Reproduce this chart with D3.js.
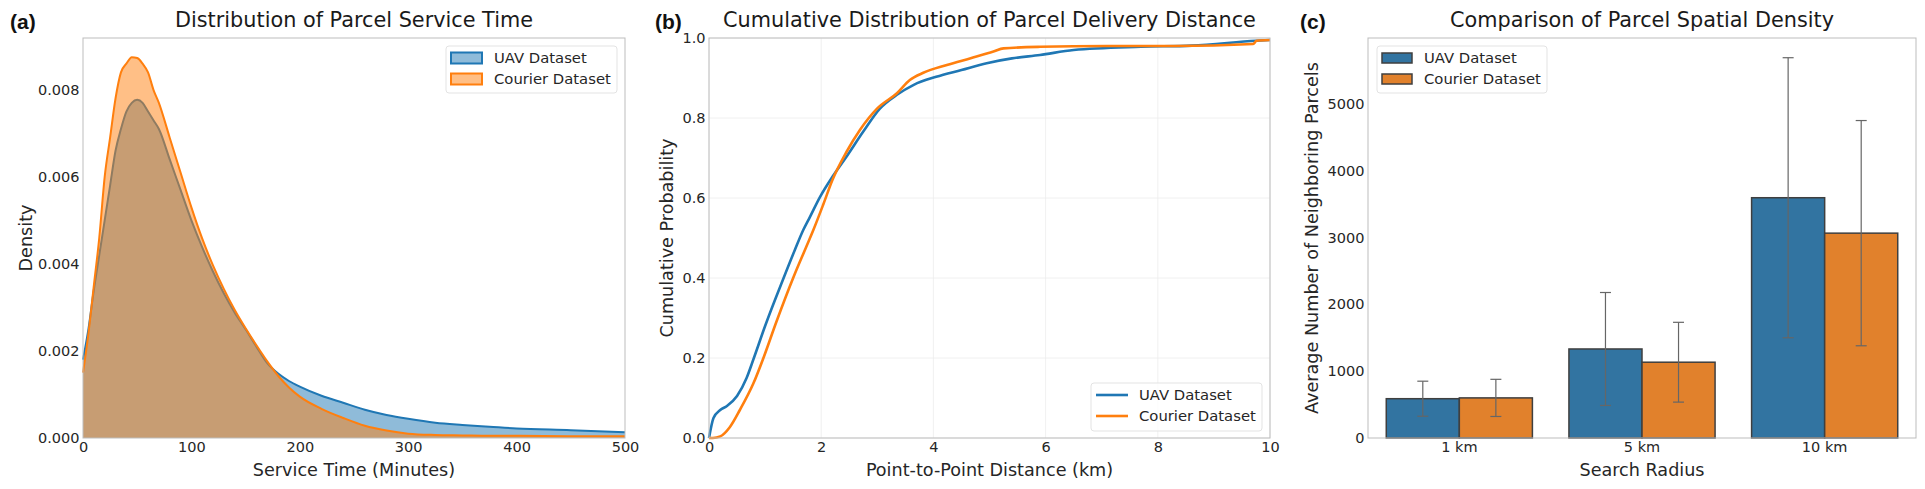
<!DOCTYPE html>
<html>
<head>
<meta charset="utf-8">
<script src="https://cdn.jsdelivr.net/npm/d3@7"></script>
<style>
    body { margin: 0; background: #fff; }
    svg text { font-family: "DejaVu Sans", sans-serif; fill: #262626; }
</style>
</head>
<body>
<svg id="chart" width="1925" height="489"></svg>
<script>
// (a) service time KDE
var serviceTime = [0, 5, 10, 15, 20, 25, 30, 35, 40, 45, 50, 55, 60, 65, 70, 80, 90, 100, 110, 120, 130, 140, 150,
    160, 170, 180, 190, 200, 220, 240, 260, 280, 300, 325, 350, 375, 400, 450, 500];
var uavDensity = [0.0018, 0.0025, 0.0034, 0.0042, 0.0050, 0.0058, 0.0066, 0.0071, 0.0075, 0.0077, 0.00777, 0.0077,
    0.0075, 0.0073, 0.0071, 0.0064, 0.0057, 0.0050, 0.00438, 0.00382, 0.00332, 0.00288, 0.00250, 0.00210, 0.00172,
    0.00148, 0.00131, 0.00118, 0.00097, 0.00081, 0.00065, 0.00053, 0.00044, 0.00035, 0.00030, 0.00026, 0.00022,
    0.00018, 0.00013];
var courierDensity = [0.0015, 0.0024, 0.0035, 0.0046, 0.0060, 0.0069, 0.0078, 0.0084, 0.0086, 0.00875, 0.00873,
    0.0086, 0.0084, 0.0080, 0.0077, 0.0069, 0.0061, 0.0053, 0.00458, 0.00396, 0.00342, 0.00294, 0.00252, 0.00213,
    0.00176, 0.00143, 0.00116, 0.00095, 0.00067, 0.00046, 0.00028, 0.00017, 0.00010, 0.00007, 0.00006, 0.00005,
    0.00005, 0.00004, 0.00004];

// (b) delivery distance CDF
var uavDistance = [0, 0.08, 0.2, 0.32, 0.5, 0.67, 0.8, 1.0, 1.33, 1.53, 1.68, 1.8, 1.98, 2.2, 2.45, 2.75, 3.05,
    3.35, 3.65, 4.05, 4.5, 4.95, 5.4, 5.9, 6.5, 7.7, 8.6, 9.75, 10];
var uavCdf = [0, 0.05, 0.07, 0.08, 0.105, 0.15, 0.2, 0.28, 0.4, 0.47, 0.52, 0.553, 0.603, 0.653, 0.703, 0.766,
    0.824, 0.858, 0.883, 0.903, 0.92, 0.937, 0.949, 0.9575, 0.97, 0.978, 0.981, 0.993, 0.995];
var courierDistance = [0, 0.07, 0.2, 0.37, 0.55, 0.79, 0.97, 1.2, 1.5, 1.74, 1.86, 2.04, 2.2, 2.45, 2.69, 3.0,
    3.35, 3.58, 3.82, 4.24, 4.65, 5.07, 5.25, 5.9, 7.1, 8.3, 9.7, 9.76, 10];
var courierCdf = [0, 0, 0.004, 0.027, 0.07, 0.136, 0.2, 0.29, 0.4, 0.48, 0.52, 0.585, 0.645, 0.715, 0.77, 0.824,
    0.862, 0.895, 0.913, 0.9325, 0.949, 0.966, 0.974, 0.978, 0.98, 0.98, 0.985, 0.993, 0.995];

// (c) neighbouring parcels, mean and std
var radii = ['1 km', '5 km', '10 km'];
var uavMean = [588, 1332, 3595];
var uavStd = [262, 845, 2095];
var courierMean = [600, 1134, 3065];
var courierStd = [278, 597, 1685];

var seriesNames = ['UAV Dataset', 'Courier Dataset'];
var densityTicks = [0, 0.002, 0.004, 0.006, 0.008];
var timeTicks = [0, 100, 200, 300, 400, 500];
var distanceTicks = [0, 2, 4, 6, 8, 10];
var cdfTicks = [0, 0.2, 0.4, 0.6, 0.8, 1.0];
var parcelTicks = [0, 1000, 2000, 3000, 4000, 5000];

var blue = '#1f77b4', orange = '#ff7f0e';
var barBlue = '#3274a1', barOrange = '#e1812c';
var plotTop = 38, plotBottom = 438;

var svg = d3.select('#chart');

var styleAxis = function (g) {
    g.attr('font-size', 14.5).attr('font-family', null).style('color', '#262626');
    g.select('.domain').remove();
};

var frame = function (left, right) {
    svg.append('rect')
        .attr('x', left).attr('y', plotTop)
        .attr('width', right - left).attr('height', plotBottom - plotTop)
        .style('fill', 'none').style('stroke', '#bdbdbd').style('stroke-width', 1);
};

var titles = function (cx, label, letterX, letter, xLabel, yLabel, yLabelX) {
    svg.append('text').attr('x', cx).attr('y', 27).attr('text-anchor', 'middle')
        .attr('font-size', 20.8).style('fill', '#1a1a1a').text(label);
    svg.append('text').attr('x', letterX).attr('y', 29)
        .style('font-family', '"Liberation Sans", Arial, sans-serif')
        .attr('font-weight', 'bold').attr('font-size', 21).style('fill', '#111').text(letter);
    svg.append('text').attr('x', cx).attr('y', 476).attr('text-anchor', 'middle')
        .attr('font-size', 17.6).text(xLabel);
    svg.append('text').attr('transform', 'translate(' + yLabelX + ',' + ((plotTop + plotBottom) / 2) + ') rotate(-90)')
        .attr('text-anchor', 'middle').attr('font-size', 17.6).text(yLabel);
};

// ---------- (a) ----------
var ax = d3.scaleLinear().domain([0, 500]).range([83, 625]);
var ay = d3.scaleLinear().domain([0, 0.00919]).range([plotBottom, plotTop]);

var kde = [
    {values: uavDensity, color: blue},
    {values: courierDensity, color: orange}
];
kde.forEach(function (s) {
    var pts = serviceTime.map(function (t, i) { return [t, s.values[i]]; });
    svg.append('path')
        .attr('d', d3.area().x(function (d) { return ax(d[0]); }).y0(ay(0)).y1(function (d) { return ay(d[1]); })
            .curve(d3.curveMonotoneX)(pts))
        .style('fill', s.color).style('fill-opacity', 0.5).style('stroke', 'none');
    svg.append('path')
        .attr('d', d3.line().x(function (d) { return ax(d[0]); }).y(function (d) { return ay(d[1]); })
            .curve(d3.curveMonotoneX)(pts))
        .style('fill', 'none').style('stroke', s.color).style('stroke-width', 2);
});

svg.append('g').attr('transform', 'translate(0,' + plotBottom + ')')
    .call(d3.axisBottom(ax).tickValues(timeTicks).tickSize(0).tickPadding(4)).call(styleAxis);
svg.append('g').attr('transform', 'translate(83,0)')
    .call(d3.axisLeft(ay).tickValues(densityTicks).tickFormat(d3.format('.3f')).tickSize(0).tickPadding(3.5))
    .call(styleAxis);
frame(83, 625);
titles(354, 'Distribution of Parcel Service Time', 10, '(a)', 'Service Time (Minutes)', 'Density', 32);

var legA = svg.append('g');
legA.append('rect').attr('x', 446).attr('y', 46).attr('width', 171).attr('height', 47).attr('rx', 3)
    .style('fill', '#fff').style('fill-opacity', 0.8).style('stroke', '#e3e3e3');
kde.forEach(function (s, i) {
    var ly = 58 + i * 21;
    legA.append('rect').attr('x', 451).attr('y', ly - 5.5).attr('width', 31).attr('height', 11)
        .style('fill', s.color).style('fill-opacity', 0.5).style('stroke', s.color).style('stroke-width', 2);
    legA.append('text').attr('x', 494).attr('y', ly).attr('dy', '0.35em').attr('font-size', 14.8).text(seriesNames[i]);
});

// ---------- (b) ----------
var bx = d3.scaleLinear().domain([0, 10]).range([709, 1270]);
var by = d3.scaleLinear().domain([0, 1]).range([plotBottom, plotTop]);

var grid = svg.append('g');
distanceTicks.forEach(function (t) {
    grid.append('line').attr('x1', bx(t)).attr('x2', bx(t)).attr('y1', plotTop).attr('y2', plotBottom)
        .style('stroke', '#ececec').style('stroke-width', 0.8);
});
cdfTicks.forEach(function (t) {
    grid.append('line').attr('x1', 709).attr('x2', 1270).attr('y1', by(t)).attr('y2', by(t))
        .style('stroke', '#ececec').style('stroke-width', 0.8);
});

var cdfs = [
    {x: uavDistance, y: uavCdf, color: blue},
    {x: courierDistance, y: courierCdf, color: orange}
];
cdfs.forEach(function (s) {
    var pts = s.x.map(function (v, i) { return [v, s.y[i]]; });
    svg.append('path')
        .attr('d', d3.line().x(function (d) { return bx(d[0]); }).y(function (d) { return by(d[1]); })
            .curve(d3.curveMonotoneX)(pts))
        .style('fill', 'none').style('stroke', s.color).style('stroke-width', 2.6);
});

svg.append('g').attr('transform', 'translate(0,' + plotBottom + ')')
    .call(d3.axisBottom(bx).tickValues(distanceTicks).tickSize(0).tickPadding(4)).call(styleAxis);
svg.append('g').attr('transform', 'translate(709,0)')
    .call(d3.axisLeft(by).tickValues(cdfTicks).tickFormat(d3.format('.1f')).tickSize(0).tickPadding(3.5))
    .call(styleAxis);
frame(709, 1270);
titles(989.5, 'Cumulative Distribution of Parcel Delivery Distance', 655, '(b)', 'Point-to-Point Distance (km)',
    'Cumulative Probability', 673);

var legB = svg.append('g');
legB.append('rect').attr('x', 1091).attr('y', 383).attr('width', 171).attr('height', 48).attr('rx', 3)
    .style('fill', '#fff').style('fill-opacity', 0.8).style('stroke', '#e3e3e3');
cdfs.forEach(function (s, i) {
    var ly = 395 + i * 21;
    legB.append('line').attr('x1', 1096).attr('x2', 1128).attr('y1', ly).attr('y2', ly)
        .style('stroke', s.color).style('stroke-width', 2.6);
    legB.append('text').attr('x', 1139).attr('y', ly).attr('dy', '0.35em').attr('font-size', 14.8).text(seriesNames[i]);
});

// ---------- (c) ----------
var cx = d3.scaleBand().domain(radii).range([1368, 1916]).padding(0);
var cy = d3.scaleLinear().domain([0, 5985]).range([plotBottom, plotTop]);
var bw = cx.bandwidth() * 0.4;

var bars = [
    {mean: uavMean, std: uavStd, color: barBlue, off: -bw},
    {mean: courierMean, std: courierStd, color: barOrange, off: 0}
];
bars.forEach(function (s) {
    radii.forEach(function (r, i) {
        var x0 = cx(r) + cx.bandwidth() / 2 + s.off;
        svg.append('rect')
            .attr('x', x0).attr('y', cy(s.mean[i]))
            .attr('width', bw).attr('height', cy(0) - cy(s.mean[i]))
            .style('fill', s.color).style('stroke', '#3f3f3f').style('stroke-width', 1.5);
    });
});
bars.forEach(function (s) {
    radii.forEach(function (r, i) {
        var xm = cx(r) + cx.bandwidth() / 2 + s.off + bw / 2;
        var hi = cy(s.mean[i] + s.std[i]), lo = cy(s.mean[i] - s.std[i]);
        var eb = svg.append('g').style('stroke', '#666').style('stroke-width', 1.2);
        eb.append('line').attr('x1', xm).attr('x2', xm).attr('y1', hi).attr('y2', lo);
        eb.append('line').attr('x1', xm - 5.5).attr('x2', xm + 5.5).attr('y1', hi).attr('y2', hi);
        eb.append('line').attr('x1', xm - 5.5).attr('x2', xm + 5.5).attr('y1', lo).attr('y2', lo);
    });
});

svg.append('g').attr('transform', 'translate(0,' + plotBottom + ')')
    .call(d3.axisBottom(cx).tickSize(0).tickPadding(4)).call(styleAxis);
svg.append('g').attr('transform', 'translate(1368,0)')
    .call(d3.axisLeft(cy).tickValues(parcelTicks).tickFormat(d3.format('d')).tickSize(0).tickPadding(3.5))
    .call(styleAxis);
frame(1368, 1916);
titles(1642, 'Comparison of Parcel Spatial Density', 1300, '(c)', 'Search Radius',
    'Average Number of Neighboring Parcels', 1318);

var legC = svg.append('g');
legC.append('rect').attr('x', 1377).attr('y', 46).attr('width', 170).attr('height', 47).attr('rx', 3)
    .style('fill', '#fff').style('fill-opacity', 0.8).style('stroke', '#e3e3e3');
bars.forEach(function (s, i) {
    var ly = 58 + i * 21;
    legC.append('rect').attr('x', 1382).attr('y', ly - 5).attr('width', 30).attr('height', 10)
        .style('fill', s.color).style('stroke', '#3f3f3f').style('stroke-width', 1.5);
    legC.append('text').attr('x', 1424).attr('y', ly).attr('dy', '0.35em').attr('font-size', 14.8).text(seriesNames[i]);
});
</script>
</body>
</html>
